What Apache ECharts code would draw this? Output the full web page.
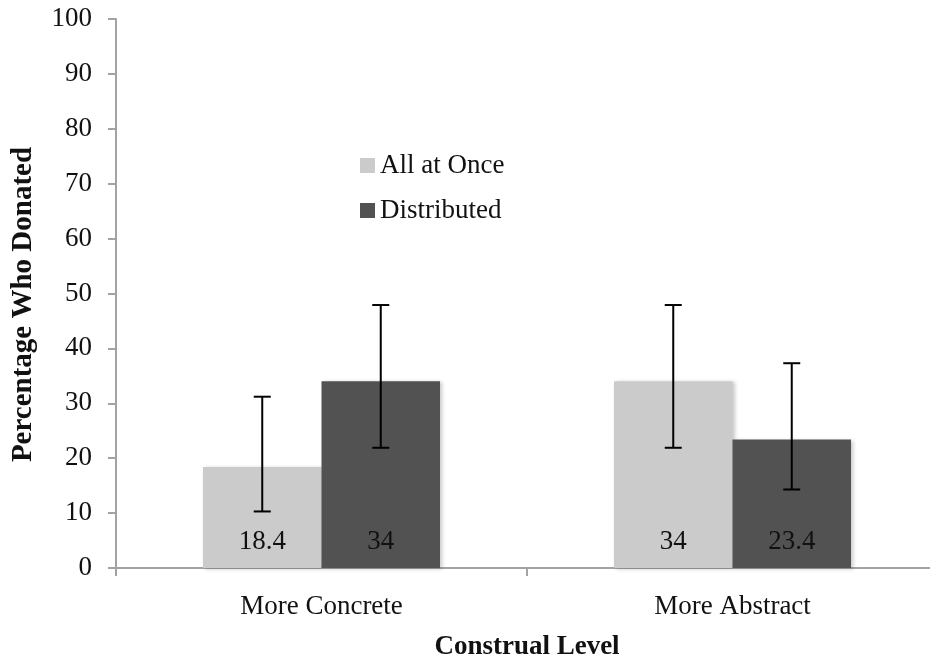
<!DOCTYPE html>
<html>
<head>
<meta charset="utf-8">
<script src="https://cdn.jsdelivr.net/npm/echarts@6/dist/echarts.min.js"></script>
<style>
html,body{margin:0;padding:0;background:#fff;}
#chart{width:930px;height:657px;}
</style>
</head>
<body>
<div id="chart"></div>
<script>
var categories = ['More Concrete', 'More Abstract'];
var seriesNames = ['All at Once', 'Distributed'];
var allAtOnce = [18.4, 34];
var distributed = [34, 23.4];
var allAtOnceLow = [10.3, 21.9];
var allAtOnceHigh = [31.2, 47.9];
var distributedLow = [21.9, 14.3];
var distributedHigh = [47.9, 37.3];
var yTicks = [0, 10, 20, 30, 40, 50, 60, 70, 80, 90, 100];

var FONT = '"Liberation Serif", "DejaVu Serif", serif';
var BAR_W = 118.5;
var AXIS_COLOR = '#a3a3a3';

function errorSeries(low, high, offsetSign) {
  var data = low.map(function (l, i) { return [i, l, high[i]]; });
  return {
    type: 'custom',
    z: 10,
    silent: true,
    data: data,
    encode: { x: 0, y: [1, 2] },
    renderItem: function (params, api) {
      var idx = api.value(0);
      var lo = api.coord([idx, api.value(1)]);
      var hi = api.coord([idx, api.value(2)]);
      var x = lo[0] + offsetSign * BAR_W / 2;
      var cap = 8.5;
      var st = { stroke: '#000', lineWidth: 2 };
      return {
        type: 'group',
        children: [
          { type: 'line', shape: { x1: x, y1: lo[1], x2: x, y2: hi[1] }, style: st },
          { type: 'line', shape: { x1: x - cap, y1: lo[1], x2: x + cap, y2: lo[1] }, style: st },
          { type: 'line', shape: { x1: x - cap, y1: hi[1], x2: x + cap, y2: hi[1] }, style: st }
        ]
      };
    }
  };
}

var labelStyle = {
  show: true,
  position: 'insideBottom',
  distance: 13,
  fontFamily: FONT,
  fontSize: 27,
  color: '#111'
};
var shadow = { shadowColor: 'rgba(0,0,0,0.22)', shadowBlur: 4, shadowOffsetX: 2, shadowOffsetY: 1 };

var chart = echarts.init(document.getElementById('chart'), null, { renderer: 'canvas' });
chart.setOption({
  animation: false,
  backgroundColor: '#ffffff',
  grid: { left: 116, right: -8, top: 19, bottom: 89, containLabel: false, outerBoundsMode: 'none' },
  legend: {
    data: seriesNames,
    orient: 'vertical',
    left: 355,
    top: 147,
    itemGap: 18,
    itemWidth: 15,
    itemHeight: 15,
    icon: 'rect',
    textStyle: { fontFamily: FONT, fontSize: 27, lineHeight: 26, color: '#111' }
  },
  xAxis: {
    type: 'category',
    data: categories,
    name: 'Construal Level',
    nameLocation: 'middle',
    nameGap: 66,
    nameTextStyle: { fontFamily: FONT, fontSize: 27, fontWeight: 'bold', color: '#111' },
    axisLine: { show: true, lineStyle: { color: AXIS_COLOR, width: 2 } },
    axisTick: { show: true, length: 8, alignWithLabel: false, lineStyle: { color: AXIS_COLOR, width: 2 } },
    axisLabel: { fontFamily: FONT, fontSize: 27, color: '#111', margin: 25 },
    splitLine: { show: false }
  },
  yAxis: {
    type: 'value',
    min: 0,
    max: 100,
    interval: 10,
    name: 'Percentage Who Donated',
    nameLocation: 'middle',
    nameGap: 78,
    nameRotate: 90,
    nameTextStyle: { fontFamily: FONT, fontSize: 29, fontWeight: 'bold', color: '#111', padding: [0, 22, 0, 0] },
    axisLine: { show: true, lineStyle: { color: AXIS_COLOR, width: 2 } },
    axisTick: { show: true, length: 8, lineStyle: { color: AXIS_COLOR, width: 2 } },
    axisLabel: {
      fontFamily: FONT, fontSize: 27, color: '#111', margin: 24,
      formatter: function (v) { return yTicks.indexOf(v) >= 0 ? String(v) : ''; }
    },
    splitLine: { show: false }
  },
  series: [
    {
      name: seriesNames[0],
      type: 'bar',
      data: allAtOnce,
      barWidth: BAR_W,
      barGap: '0%',
      itemStyle: Object.assign({ color: '#cbcbcb' }, shadow),
      label: labelStyle
    },
    {
      name: seriesNames[1],
      type: 'bar',
      data: distributed,
      barWidth: BAR_W,
      barGap: '0%',
      itemStyle: Object.assign({ color: '#525252' }, shadow),
      label: labelStyle
    },
    errorSeries(allAtOnceLow, allAtOnceHigh, -1),
    errorSeries(distributedLow, distributedHigh, 1)
  ]
});
</script>
</body>
</html>
